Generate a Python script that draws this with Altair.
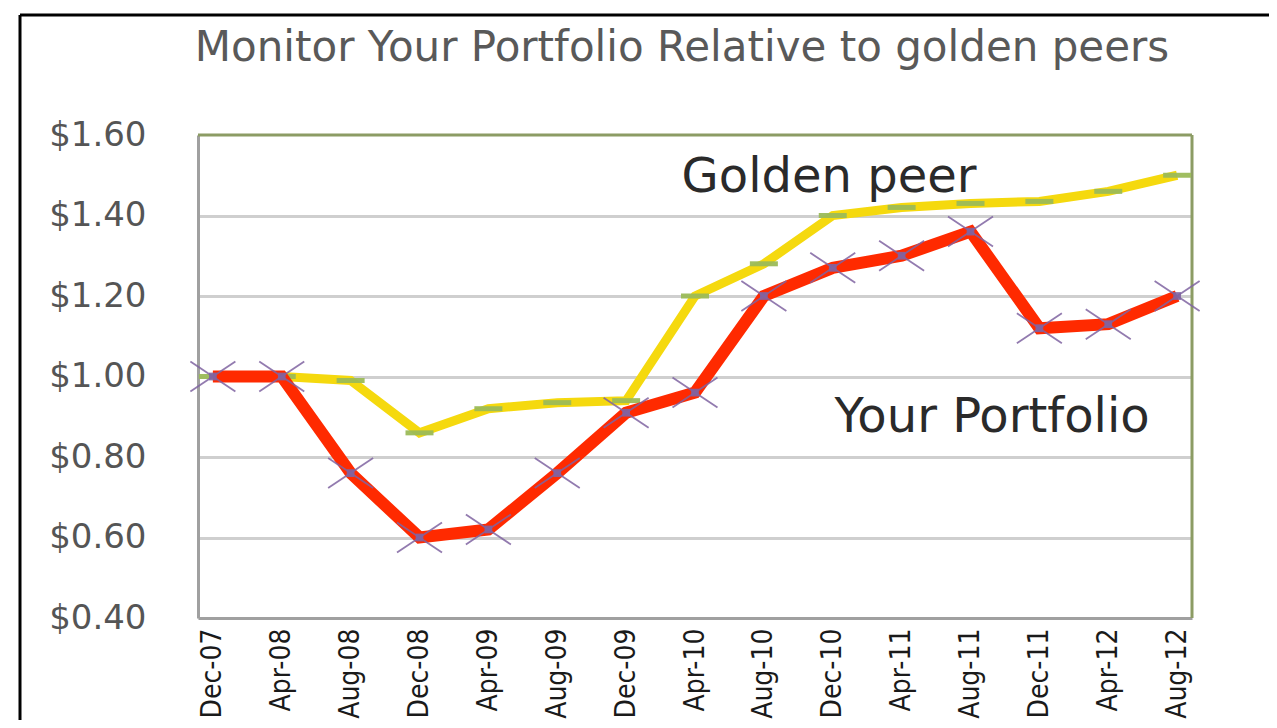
import altair as alt
import pandas as pd

months = ["Dec-07", "Apr-08", "Aug-08", "Dec-08", "Apr-09", "Aug-09", "Dec-09", "Apr-10",
          "Aug-10", "Dec-10", "Apr-11", "Aug-11", "Dec-11", "Apr-12", "Aug-12"]
portfolio = [1.00, 1.00, 0.76, 0.60, 0.62, 0.76, 0.91, 0.96, 1.20, 1.27, 1.30, 1.36, 1.12, 1.13, 1.20]
golden = [1.00, 1.00, 0.99, 0.86, 0.92, 0.935, 0.94, 1.20, 1.28, 1.40, 1.42, 1.43, 1.435, 1.46, 1.50]
y_ticks = [0.4, 0.6, 0.8, 1.0, 1.2, 1.4, 1.6]
title_text = "Monitor Your Portfolio Relative to golden peers"
labels = ["Golden peer", "Your Portfolio"]

df_p = pd.DataFrame({"month": months, "value": portfolio})
df_g = pd.DataFrame({"month": months, "value": golden})
one = pd.DataFrame({"a": [0]})

W, H = 994, 483

x_enc = alt.X("month:N", sort=months, title=None,
              scale=alt.Scale(type="point", padding=0.216),
              axis=alt.Axis(labelAngle=270, labelFont="DejaVu Sans Condensed", labelFontSize=28,
                            labelColor="#1a1a1a", labelPadding=10, ticks=False, domain=True,
                            domainColor="#a0a0a0", domainWidth=3, grid=False))
y_enc = alt.Y("value:Q", title=None,
              scale=alt.Scale(domain=[0.4, 1.6], nice=False, zero=False),
              axis=alt.Axis(values=y_ticks, format="$.2f", labelFont="DejaVu Sans", labelFontSize=34,
                            labelColor="#555555", labelPadding=52, ticks=False, domain=True,
                            domainColor="#a0a0a0", domainWidth=3, grid=True, gridColor="#cfcfcf",
                            gridWidth=3,
                            gridOpacity={"condition": {"test": "datum.value > 1.59 || datum.value < 0.41",
                                                       "value": 0}, "value": 1}))

golden_line = alt.Chart(df_g).mark_line(color="#f5d90e", strokeWidth=9).encode(x=x_enc, y=y_enc)
golden_marks = alt.Chart(df_g).mark_tick(color="#9bbb59", thickness=5, size=28, opacity=0.95).encode(
    x=alt.X("month:N", sort=months), y="value:Q")
port_line = alt.Chart(df_p).mark_line(color="#ff2a00", strokeWidth=12).encode(
    x=alt.X("month:N", sort=months), y="value:Q")
port_x = alt.Chart(df_p).mark_point(shape="M-1.5,-1L1.5,1M-1.5,1L1.5,-1", size=900, filled=False,
                                    color="#8064a2", strokeWidth=1.8, opacity=0.85).encode(
    x=alt.X("month:N", sort=months), y="value:Q")
port_sq = alt.Chart(df_p).mark_point(shape="square", size=60, filled=True, color="#8064a2",
                                     opacity=0.9).encode(x=alt.X("month:N", sort=months), y="value:Q")

title = alt.Chart(one).mark_text(text=title_text, font="DejaVu Sans", fontSize=42, color="#595959",
                                 align="center", baseline="middle").encode(
    x=alt.value(484), y=alt.value(-87))
lab_g = alt.Chart(one).mark_text(text=labels[0], font="DejaVu Sans", fontSize=48, color="#2a2a2a",
                                 align="center", baseline="middle").encode(
    x=alt.value(631), y=alt.value(43))
lab_p = alt.Chart(one).mark_text(text=labels[1], font="DejaVu Sans", fontSize=48, color="#2a2a2a",
                                 align="center", baseline="middle").encode(
    x=alt.value(794), y=alt.value(283))

frame_top = alt.Chart(one).mark_rule(color="#8c9c64", strokeWidth=3).encode(
    x=alt.value(0), x2=alt.value(W), y=alt.value(0))
frame_right = alt.Chart(one).mark_rule(color="#8c9c64", strokeWidth=3).encode(
    x=alt.value(W), y=alt.value(0), y2=alt.value(H))

border_top = alt.Chart(one).mark_rule(color="black", strokeWidth=3).encode(
    x=alt.value(-178), x2=alt.value(1200), y=alt.value(-120))
border_left = alt.Chart(one).mark_rule(color="black", strokeWidth=3).encode(
    x=alt.value(-178), y=alt.value(-120), y2=alt.value(700))

chart = alt.layer(frame_top, frame_right, golden_line, golden_marks, port_line, port_x, port_sq,
                  title, lab_g, lab_p, border_top, border_left).properties(
    width=W, height=H,
    background="white",
    autosize=alt.AutoSizeParams(type="none"),
    padding={"left": 190, "top": 127, "right": 77, "bottom": 102},
).configure_view(strokeWidth=0)

chart.save("out.html", embed_options={"renderer": "svg", "actions": False})
